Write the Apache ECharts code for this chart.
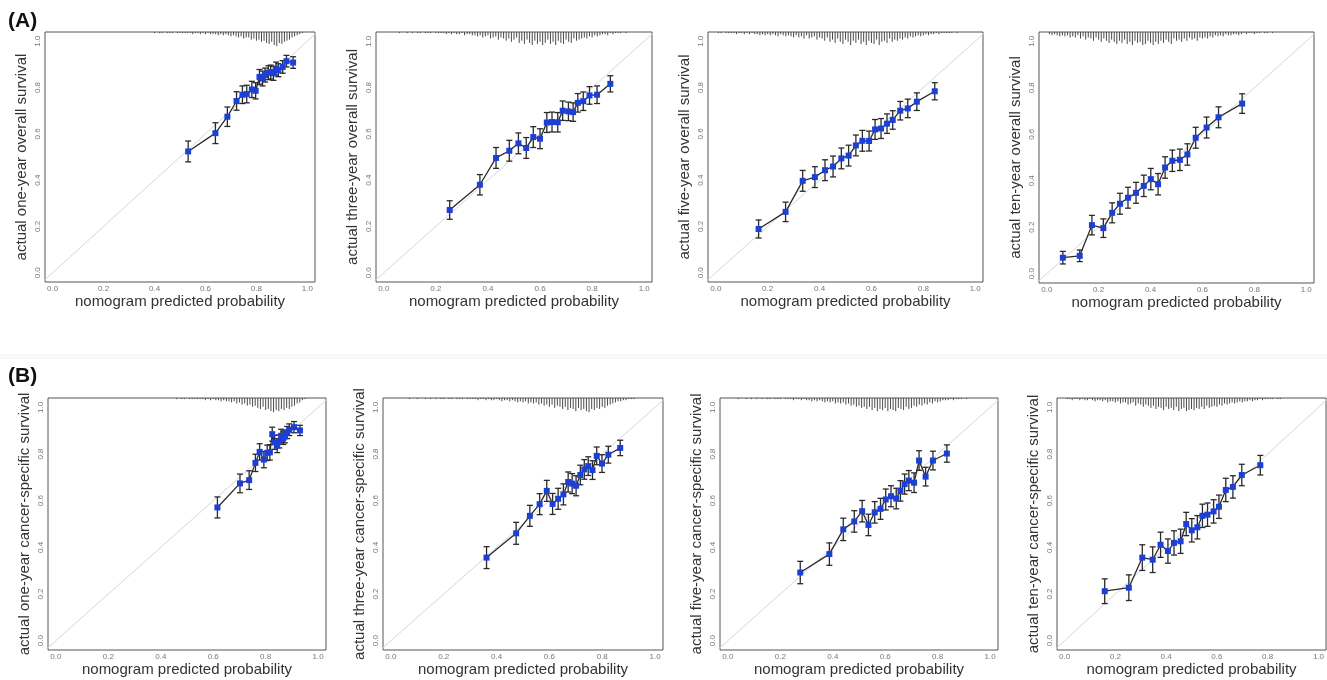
<!DOCTYPE html>
<html lang="en" style="height:100%">
<head>
    <meta charset="UTF-8">
    <title>Calibration curves</title>
</head>
<body style="height: 100%; margin: 0; background: #fff">
<div id="container" style="width: 1327px; height: 680px"></div>
<script type="text/javascript" src="https://cdn.jsdelivr.net/npm/echarts@6/dist/echarts.min.js"></script>
<script type="text/javascript">

    // tick labels on both axes
    var tickVals = [0, 0.2, 0.4, 0.6, 0.8, 1.0];

    // (A) overall survival
    var a1Pred = [0.532, 0.639, 0.686, 0.722, 0.745, 0.762, 0.782, 0.797, 0.812, 0.824, 0.834, 0.847, 0.856, 0.867, 0.877, 0.886, 0.903, 0.918, 0.944];
    var a1Obs  = [0.524, 0.603, 0.674, 0.742, 0.769, 0.772, 0.792, 0.786, 0.846, 0.839, 0.854, 0.864, 0.867, 0.861, 0.882, 0.875, 0.889, 0.914, 0.908];
    var a1Err  = [0.045, 0.045, 0.042, 0.04, 0.038, 0.038, 0.035, 0.035, 0.032, 0.032, 0.03, 0.03, 0.03, 0.03, 0.028, 0.028, 0.027, 0.025, 0.025];

    var a2Pred = [0.253, 0.369, 0.431, 0.482, 0.517, 0.547, 0.574, 0.600, 0.626, 0.646, 0.668, 0.687, 0.709, 0.727, 0.745, 0.766, 0.790, 0.819, 0.870];
    var a2Obs  = [0.271, 0.380, 0.496, 0.527, 0.559, 0.539, 0.586, 0.579, 0.649, 0.651, 0.650, 0.700, 0.697, 0.694, 0.734, 0.741, 0.766, 0.769, 0.816];
    var a2Err  = [0.04, 0.044, 0.045, 0.045, 0.045, 0.045, 0.045, 0.043, 0.043, 0.043, 0.042, 0.042, 0.04, 0.04, 0.04, 0.04, 0.038, 0.038, 0.035];

    var a3Pred = [0.165, 0.269, 0.335, 0.382, 0.421, 0.452, 0.484, 0.512, 0.540, 0.565, 0.591, 0.614, 0.637, 0.660, 0.682, 0.711, 0.740, 0.775, 0.844];
    var a3Obs  = [0.189, 0.263, 0.397, 0.413, 0.443, 0.459, 0.494, 0.506, 0.550, 0.570, 0.569, 0.619, 0.623, 0.644, 0.660, 0.700, 0.710, 0.739, 0.784];
    var a3Err  = [0.039, 0.042, 0.045, 0.045, 0.045, 0.045, 0.045, 0.045, 0.045, 0.045, 0.043, 0.043, 0.043, 0.042, 0.04, 0.04, 0.04, 0.038, 0.037];

    var a4Pred = [0.062, 0.127, 0.174, 0.218, 0.252, 0.282, 0.313, 0.344, 0.374, 0.401, 0.429, 0.456, 0.484, 0.513, 0.542, 0.574, 0.616, 0.662, 0.753];
    var a4Obs  = [0.069, 0.077, 0.209, 0.196, 0.262, 0.301, 0.327, 0.348, 0.378, 0.407, 0.385, 0.457, 0.486, 0.490, 0.513, 0.585, 0.629, 0.673, 0.732];
    var a4Err  = [0.027, 0.025, 0.042, 0.04, 0.043, 0.045, 0.045, 0.045, 0.046, 0.046, 0.046, 0.046, 0.046, 0.046, 0.046, 0.045, 0.045, 0.045, 0.042];

    // (B) cancer-specific survival
    var b1Pred = [0.616, 0.702, 0.737, 0.761, 0.777, 0.793, 0.806, 0.816, 0.825, 0.834, 0.844, 0.852, 0.859, 0.867, 0.873, 0.882, 0.890, 0.908, 0.931];
    var b1Obs  = [0.571, 0.674, 0.688, 0.762, 0.809, 0.776, 0.805, 0.807, 0.885, 0.850, 0.836, 0.854, 0.878, 0.868, 0.875, 0.892, 0.904, 0.915, 0.901];
    var b1Err  = [0.045, 0.04, 0.04, 0.037, 0.035, 0.035, 0.033, 0.033, 0.03, 0.03, 0.03, 0.028, 0.028, 0.027, 0.027, 0.026, 0.025, 0.024, 0.022];

    var b2Pred = [0.362, 0.474, 0.526, 0.563, 0.590, 0.612, 0.633, 0.653, 0.671, 0.686, 0.701, 0.717, 0.732, 0.747, 0.763, 0.779, 0.799, 0.823, 0.868];
    var b2Obs  = [0.356, 0.460, 0.535, 0.585, 0.642, 0.586, 0.608, 0.627, 0.680, 0.673, 0.664, 0.710, 0.734, 0.748, 0.731, 0.792, 0.759, 0.797, 0.826];
    var b2Err  = [0.047, 0.047, 0.045, 0.045, 0.045, 0.045, 0.045, 0.045, 0.043, 0.043, 0.043, 0.042, 0.042, 0.04, 0.04, 0.038, 0.038, 0.036, 0.033];

    var b3Pred = [0.276, 0.387, 0.440, 0.482, 0.512, 0.536, 0.560, 0.582, 0.602, 0.622, 0.642, 0.658, 0.674, 0.690, 0.710, 0.729, 0.754, 0.782, 0.835];
    var b3Obs  = [0.292, 0.371, 0.477, 0.511, 0.555, 0.496, 0.550, 0.565, 0.605, 0.619, 0.609, 0.642, 0.671, 0.686, 0.677, 0.772, 0.703, 0.772, 0.802];
    var b3Err  = [0.048, 0.048, 0.048, 0.046, 0.046, 0.046, 0.046, 0.045, 0.045, 0.045, 0.044, 0.044, 0.043, 0.043, 0.042, 0.042, 0.04, 0.04, 0.037];

    var b4Pred = [0.158, 0.253, 0.306, 0.347, 0.378, 0.407, 0.431, 0.457, 0.479, 0.501, 0.523, 0.543, 0.563, 0.587, 0.608, 0.635, 0.663, 0.698, 0.771];
    var b4Obs  = [0.212, 0.227, 0.356, 0.347, 0.411, 0.384, 0.419, 0.426, 0.500, 0.473, 0.486, 0.535, 0.540, 0.554, 0.574, 0.646, 0.659, 0.710, 0.752];
    var b4Err  = [0.053, 0.055, 0.055, 0.055, 0.054, 0.052, 0.052, 0.052, 0.05, 0.05, 0.05, 0.05, 0.05, 0.05, 0.05, 0.05, 0.048, 0.046, 0.042];

    // spike histograms of predicted probability (counts per 0.01 bin, starting at *SpStart)
    var a1SpStart = 0.40;
    var a1Spikes = [1,0,1,1,0,1,1,1,0,1, 1,1,1,1,1,2,1,1,2,1, 2,1,2,2,2,3,2,3,2,3, 4,3,4,5,4,6,5,5,7,6,
                    8,7,9,8,10,11,9,12,13,10, 11,9,8,7,5,4,3,2,1];
    var a2SpStart = 0.05;
    var a2Spikes = [0,1,0,0,1,0,1,0,1,1, 0,1,1,1,0,1,1,1,1,2, 1,2,1,2,2,1,3,2,2,3, 3,4,3,5,4,3,6,5,4,7,
                    5,6,8,6,9,7,5,10,8,11, 7,10,12,8,11,9,12,10,7,11, 9,12,8,10,11,7,9,10,6,8,
                    7,6,5,6,4,5,3,4,3,2, 2,3,1,2,1,1,1,0,1,0];
    var a3SpStart = 0.01;
    var a3Spikes = [1,1,0,1,1,1,1,2,1,1, 2,1,2,1,2,2,3,2,3,2, 3,2,3,4,2,3,4,3,4,5, 3,5,4,6,3,6,5,4,7,5,
                    6,8,5,9,7,10,6,9,11,7, 9,12,8,10,7,11,9,12,8,10, 11,7,12,9,8,10,6,9,7,8,
                    6,7,5,6,4,5,4,3,4,3, 2,3,2,2,1,2,1,1,1,1, 1,0,1];
    var a4SpStart = 0.01;
    var a4Spikes = [2,3,2,3,4,3,4,3,5,4, 5,3,6,4,7,5,6,8,5,7, 9,6,8,10,7,9,11,8,10,7, 11,9,12,8,10,9,12,11,8,10,
                    12,9,11,8,10,7,9,11,6,8, 7,9,6,8,5,7,6,8,5,6, 5,6,4,5,3,4,3,4,2,3,
                    3,2,2,3,2,1,2,1,1,2, 1,1,0,1,1,0,1,0];
    var b1SpStart = 0.45;
    var b1Spikes = [0,1,0,1,1,0,1,1,1,1, 1,1,2,1,2,1,2,2,3,2, 3,3,4,3,5,4,6,5,7,6, 8,7,9,10,8,11,10,12,13,11,
                    12,10,11,9,10,8,7,5,4,2, 1];
    var b2SpStart = 0.05;
    var b2Spikes = [0,0,1,0,0,1,0,0,1,0, 1,0,1,0,1,1,0,1,1,0, 1,1,1,0,1,1,1,1,2,1, 1,2,1,2,2,1,2,3,2,2,
                    3,2,3,4,3,4,3,5,4,5, 4,6,5,7,6,8,6,9,7,8, 10,8,11,9,10,12,9,11,10,12,
                    13,10,11,9,10,8,9,7,6,5, 4,3,3,2,2,1,1,1];
    var b3SpStart = 0.03;
    var b3Spikes = [0,1,0,0,1,0,1,0,1,0, 1,0,1,1,0,1,1,1,0,1, 1,1,2,1,1,2,1,2,2,3, 2,3,2,3,4,3,4,3,5,4,
                    5,4,6,5,7,6,8,7,9,8, 10,8,11,9,12,10,11,9,12,10, 11,12,9,10,11,8,10,9,7,8,
                    6,7,5,6,4,5,3,4,3,2, 2,2,1,2,1,1,1,0,1];
    var b4SpStart = 0.01;
    var b4Spikes = [1,1,2,1,1,2,1,2,2,1, 2,3,2,2,3,2,4,3,3,4, 3,5,4,4,6,5,4,7,5,6, 8,6,7,9,7,10,8,9,11,8,
                    10,9,11,8,12,10,9,12,11,10, 11,9,10,8,10,7,9,8,7,8, 6,7,5,6,5,4,5,4,3,4,
                    3,3,2,3,2,2,1,2,1,1, 1,1,0,1,1,0];

    var xTitle = 'nomogram predicted probability';

    var panels = [
        {pred: a1Pred, obs: a1Obs, err: a1Err, sp: a1Spikes, spStart: a1SpStart, name: 'actual one-year overall survival', box: [45, 32, 270, 250]},
        {pred: a2Pred, obs: a2Obs, err: a2Err, sp: a2Spikes, spStart: a2SpStart, name: 'actual three-year overall survival', box: [376, 32, 276, 250]},
        {pred: a3Pred, obs: a3Obs, err: a3Err, sp: a3Spikes, spStart: a3SpStart, name: 'actual five-year overall survival', box: [708, 32, 275, 250]},
        {pred: a4Pred, obs: a4Obs, err: a4Err, sp: a4Spikes, spStart: a4SpStart, name: 'actual ten-year overall survival', box: [1039, 32, 275, 251]},
        {pred: b1Pred, obs: b1Obs, err: b1Err, sp: b1Spikes, spStart: b1SpStart, name: 'actual one-year cancer-specific survival', box: [48, 398, 278, 252]},
        {pred: b2Pred, obs: b2Obs, err: b2Err, sp: b2Spikes, spStart: b2SpStart, name: 'actual three-year cancer-specific survival', box: [383, 398, 280, 252]},
        {pred: b3Pred, obs: b3Obs, err: b3Err, sp: b3Spikes, spStart: b3SpStart, name: 'actual five-year cancer-specific survival', box: [720, 398, 278, 252]},
        {pred: b4Pred, obs: b4Obs, err: b4Err, sp: b4Spikes, spStart: b4SpStart, name: 'actual ten-year cancer-specific survival', box: [1057, 398, 278, 252]}
    ];

    var X_MIN = -0.03, X_MAX = 1.03, Y_MIN = -0.04, Y_MAX = 1.04;
    var SPIKE_UNIT = 0.0047;   // y units per count
    var FONT = "'Liberation Sans', Arial, sans-serif";

    var grids = [], xAxes = [], yAxes = [], series = [];

    panels.forEach(function (p, i) {
        grids.push({
            left: p.box[0], top: p.box[1], width: p.box[2], height: p.box[3],
            show: true, borderColor: '#555', borderWidth: 1, backgroundColor: '#fff'
        });
        xAxes.push({
            gridIndex: i, type: 'value', min: X_MIN, max: X_MAX,
            axisLine: {show: false}, splitLine: {show: false},
            axisTick: {show: false},
            axisLabel: {
                customValues: tickVals, margin: 3, fontSize: 8, color: '#777', fontFamily: FONT,
                formatter: function (v) { return v.toFixed(1); }
            },
            name: xTitle, nameLocation: 'middle', nameGap: 10,
            nameTextStyle: {fontSize: 15, color: '#333', fontFamily: FONT}
        });
        yAxes.push({
            gridIndex: i, type: 'value', min: Y_MIN, max: Y_MAX,
            axisLine: {show: false}, splitLine: {show: false},
            axisTick: {show: false},
            axisLabel: {
                customValues: tickVals, margin: 3, fontSize: 8, color: '#777', fontFamily: FONT, rotate: 90,
                formatter: function (v) { return v.toFixed(1); }
            },
            name: p.name, nameLocation: 'middle', nameGap: 16,
            nameTextStyle: {fontSize: 15, color: '#333', fontFamily: FONT}
        });

        // ideal line
        series.push({
            type: 'line', xAxisIndex: i, yAxisIndex: i, silent: true, symbol: 'none',
            data: [[Y_MIN, Y_MIN], [Y_MAX, Y_MAX]],
            lineStyle: {color: '#d6d6d6', width: 1}, z: 1
        });

        // spike histogram hanging from the top
        var spData = p.sp.map(function (c, k) { return [p.spStart + k * 0.01, c]; });
        series.push({
            type: 'custom', xAxisIndex: i, yAxisIndex: i, silent: true, z: 2,
            data: spData,
            renderItem: function (params, api) {
                var x = api.value(0), c = api.value(1);
                var top = api.coord([x, Y_MAX]);
                var bot = api.coord([x, Y_MAX - c * SPIKE_UNIT]);
                return {type: 'line', shape: {x1: top[0], y1: top[1], x2: bot[0], y2: bot[1]},
                        style: {stroke: '#4a4a4a', lineWidth: 1}};
            }
        });

        // error bars
        var ebData = p.pred.map(function (x, k) { return [x, p.obs[k] - p.err[k], p.obs[k] + p.err[k]]; });
        series.push({
            type: 'custom', xAxisIndex: i, yAxisIndex: i, silent: true, z: 3,
            data: ebData,
            renderItem: function (params, api) {
                var x = api.value(0);
                var lo = api.coord([x, api.value(1)]);
                var hi = api.coord([x, api.value(2)]);
                var c = 3;
                var st = {stroke: '#2a2a2a', lineWidth: 1.3};
                return {type: 'group', children: [
                    {type: 'line', shape: {x1: lo[0], y1: lo[1], x2: hi[0], y2: hi[1]}, style: st},
                    {type: 'line', shape: {x1: lo[0] - c, y1: lo[1], x2: lo[0] + c, y2: lo[1]}, style: st},
                    {type: 'line', shape: {x1: hi[0] - c, y1: hi[1], x2: hi[0] + c, y2: hi[1]}, style: st}
                ]};
            }
        });

        // observed vs predicted
        series.push({
            type: 'line', xAxisIndex: i, yAxisIndex: i, silent: true, z: 5,
            data: p.pred.map(function (x, k) { return [x, p.obs[k]]; }),
            symbol: 'rect', symbolSize: 6, showAllSymbol: true,
            itemStyle: {color: '#1d3fd6', borderWidth: 0},
            lineStyle: {color: '#2a2a2a', width: 1.3}
        });
    });

    var myChart = echarts.init(document.getElementById('container'));
    var option = {
        animation: false,
        backgroundColor: '#fff',
        grid: grids,
        xAxis: xAxes,
        yAxis: yAxes,
        series: series,
        graphic: [
            {type: 'rect', left: 0, top: 354, shape: {width: 1327, height: 5}, style: {fill: '#f8f8f8'}, silent: true},
            {type: 'text', left: 8, top: 11, style: {text: '(A)', fontSize: 21, fontWeight: 'bold', fill: '#111', fontFamily: FONT}},
            {type: 'text', left: 8, top: 366, style: {text: '(B)', fontSize: 21, fontWeight: 'bold', fill: '#111', fontFamily: FONT}}
        ]
    };
    myChart.setOption(option, true);

</script>
</body>
</html>
